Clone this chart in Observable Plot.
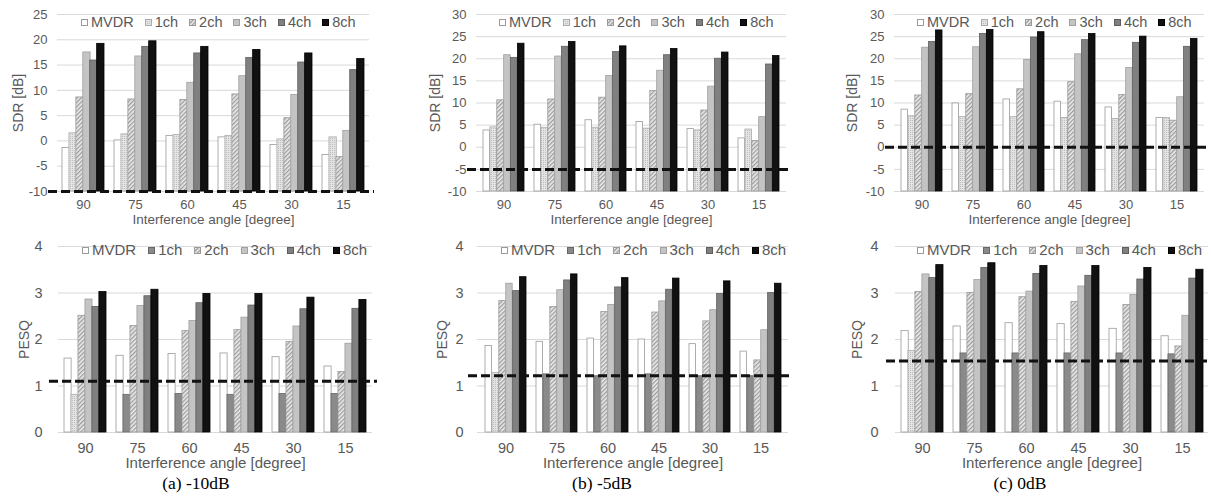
<!DOCTYPE html>
<html><head><meta charset="utf-8">
<script src="https://cdn.jsdelivr.net/npm/d3@7"></script>
<script src="https://cdn.jsdelivr.net/npm/@observablehq/plot@0.6"></script>
<style>
body{margin:0;background:#fff;}
#fig{position:relative;width:1211px;height:504px;overflow:hidden;font-family:"Liberation Sans",Arial,sans-serif;}
.panel{position:absolute;}
.legend{position:absolute;display:flex;align-items:center;color:#595959;white-space:nowrap;line-height:16px;}
.legend .it{display:flex;align-items:center;}
.legend svg{margin-right:3px;}
.cap{position:absolute;font-family:"Liberation Serif","Times New Roman",serif;font-size:17.5px;color:#000;transform:translateX(-50%);white-space:nowrap;line-height:20px;}
</style></head><body>
<svg width="0" height="0" style="position:absolute">
<defs>
<pattern id="dots" width="2" height="2" patternUnits="userSpaceOnUse"><rect width="2" height="2" fill="#e4e4e4"/><rect width="1" height="1" fill="#bdbdbd"/></pattern>
<pattern id="hatch" width="3" height="3" patternUnits="userSpaceOnUse" patternTransform="rotate(45)"><rect width="3" height="3" fill="#ebebeb"/><rect width="1.3" height="3" fill="#9c9c9c"/></pattern>
</defs></svg>
<div id="fig"></div>
<script>
const angles = ["90","75","60","45","30","15"];
const series = ["MVDR","1ch","2ch","3ch","4ch","8ch"];

// SDR [dB] per series, in angle order 90..15
const sdrM10 = {
  MVDR: [-1.4, 0.1, 1.0, 0.7, -0.8, -2.8],
  "1ch": [1.5, 1.3, 1.2, 1.0, 0.3, 0.7],
  "2ch": [8.6, 8.2, 8.1, 9.2, 4.5, -3.2],
  "3ch": [17.5, 16.7, 11.5, 12.8, 9.1, 2.0],
  "4ch": [15.9, 18.6, 17.3, 16.4, 15.5, 14.0],
  "8ch": [19.2, 19.7, 18.6, 18.0, 17.3, 16.2]
};
const sdrM5 = {
  MVDR: [3.8, 5.1, 6.1, 5.7, 4.1, 2.0],
  "1ch": [4.5, 4.4, 4.4, 4.2, 3.8, 4.0],
  "2ch": [10.6, 10.8, 11.2, 12.7, 8.3, 1.4],
  "3ch": [20.8, 20.5, 16.1, 17.3, 13.7, 6.8],
  "4ch": [20.2, 22.7, 21.5, 20.8, 20.0, 18.7],
  "8ch": [23.4, 23.8, 22.8, 22.2, 21.4, 20.6]
};
const sdr0 = {
  MVDR: [8.5, 9.9, 10.8, 10.3, 9.0, 6.6],
  "1ch": [7.0, 6.8, 6.8, 6.6, 6.4, 6.6],
  "2ch": [11.7, 12.0, 13.1, 14.7, 11.8, 6.0],
  "3ch": [22.5, 22.6, 19.7, 21.0, 17.9, 11.3],
  "4ch": [23.8, 25.6, 24.8, 24.2, 23.6, 22.7],
  "8ch": [26.4, 26.5, 26.0, 25.6, 25.0, 24.5]
};
// PESQ
const pesqM10 = {
  MVDR: [1.59, 1.65, 1.69, 1.70, 1.62, 1.42],
  "1ch": [0.81, 0.81, 0.83, 0.81, 0.83, 0.83],
  "2ch": [2.51, 2.29, 2.18, 2.20, 1.95, 1.30],
  "3ch": [2.86, 2.72, 2.40, 2.47, 2.28, 1.91],
  "4ch": [2.70, 2.93, 2.78, 2.73, 2.65, 2.66],
  "8ch": [3.02, 3.07, 2.98, 2.98, 2.90, 2.85]
};
const pesqM5 = {
  MVDR: [1.86, 1.95, 2.02, 2.00, 1.90, 1.74],
  "1ch": [1.28, 1.25, 1.21, 1.25, 1.21, 1.21],
  "2ch": [2.83, 2.70, 2.59, 2.58, 2.39, 1.55],
  "3ch": [3.20, 3.06, 2.74, 2.82, 2.63, 2.20],
  "4ch": [3.04, 3.27, 3.12, 3.07, 2.98, 3.00],
  "8ch": [3.34, 3.40, 3.32, 3.31, 3.25, 3.20]
};
const pesq0 = {
  MVDR: [2.18, 2.28, 2.35, 2.33, 2.23, 2.07],
  "1ch": [1.75, 1.70, 1.70, 1.70, 1.70, 1.68],
  "2ch": [3.02, 3.00, 2.91, 2.81, 2.74, 1.85],
  "3ch": [3.40, 3.28, 3.03, 3.14, 2.96, 2.51],
  "4ch": [3.32, 3.54, 3.41, 3.37, 3.29, 3.31],
  "8ch": [3.60, 3.64, 3.58, 3.58, 3.54, 3.50]
};
// dashed reference levels (unprocessed)
const sdrRefs = [-10, -5, 0];
const pesqRefs = [1.10, 1.22, 1.54];
const sdrTicksA = [-10, -5, 0, 5, 10, 15, 20, 25];
const sdrTicksBC = [-10, -5, 0, 5, 10, 15, 20, 25, 30];
const pesqTicks = [0, 1, 2, 3, 4];
const captions = ["(a) -10dB", "(b) -5dB", "(c) 0dB"];
// 1ch in the PESQ charts is drawn light only at this angle
const pesqLight1chAngle = "90";

const styleSdr = {
  MVDR: {fill: "#ffffff", stroke: "#9a9a9a"},
  "1ch": {fill: "url(#dots)", stroke: "#ababab"},
  "2ch": {fill: "url(#hatch)", stroke: "#9a9a9a"},
  "3ch": {fill: "#c4c4c4", stroke: "#a0a0a0"},
  "4ch": {fill: "#808080", stroke: "#5e5e5e"},
  "8ch": {fill: "#111111", stroke: "#000000"}
};
const stylePesq = Object.assign({}, styleSdr, {"1ch": {fill: "#8a8a8a", stroke: "#666666"}});

const fig = document.getElementById("fig");

function makePanel(o) {
  const rows = [];
  series.forEach(s => angles.forEach((a, i) => rows.push({series: s, angle: a, value: o.data[s][i]})));
  const W = o.width - o.ml - o.mr;
  const sw = (W / 6) * 0.8 / 6;
  const marks = [Plot.ruleY(o.ticks, {stroke: "#d9d9d9", strokeWidth: 1})];
  series.forEach((s, j) => {
    const st = o.styles[s];
    const inset = {insetLeft: j * sw, insetRight: (5 - j) * sw};
    if (o.pesq && s === "1ch") {
      marks.push(Plot.barY(rows.filter(d => d.series === s && d.angle === pesqLight1chAngle),
        {x: "angle", y1: o.base, y2: "value", fill: styleSdr["1ch"].fill, stroke: styleSdr["1ch"].stroke, strokeWidth: 0.8, ...inset}));
      marks.push(Plot.barY(rows.filter(d => d.series === s && d.angle !== pesqLight1chAngle),
        {x: "angle", y1: o.base, y2: "value", fill: st.fill, stroke: st.stroke, strokeWidth: 0.8, ...inset}));
    } else {
      marks.push(Plot.barY(rows.filter(d => d.series === s),
        {x: "angle", y1: o.base, y2: "value", fill: st.fill, stroke: st.stroke, strokeWidth: 0.8, ...inset}));
    }
  });
  marks.push(Plot.ruleY([o.ref], {stroke: "#111", strokeWidth: 3, strokeDasharray: "9,4", insetLeft: -9, insetRight: -5}));
  marks.push(Plot.axisX({tickSize: 0, tickPadding: o.xPad, fontSize: o.tickFs, label: null}));
  marks.push(Plot.axisY({ticks: o.ticks, tickFormat: d => String(d), tickSize: 0, tickPadding: o.yPad, fontSize: o.tickFs, label: null}));
  marks.push(Plot.axisX({ticks: [], tickSize: 0, label: "Interference angle [degree]", labelArrow: "none", labelAnchor: "center", labelOffset: o.xLabOff, fontSize: o.titleFs}));
  marks.push(Plot.axisY({ticks: [], tickSize: 0, label: o.ylabel, labelArrow: "none", labelAnchor: "center", labelOffset: o.yLabOff, fontSize: o.yTitleFs}));
  const chart = Plot.plot({
    width: o.width, height: o.height,
    marginLeft: o.ml, marginRight: o.mr, marginTop: o.mt, marginBottom: o.mb,
    x: {domain: angles, paddingInner: 0.2, paddingOuter: 0.1},
    y: {domain: o.yDomain},
    style: {fontFamily: "Liberation Sans, Arial, sans-serif", color: "#595959", background: "transparent", overflow: "visible"},
    marks
  });
  const div = document.createElement("div");
  div.className = "panel";
  div.style.left = o.left + "px";
  div.style.top = o.top + "px";
  div.appendChild(chart);
  fig.appendChild(div);

  // legend
  const lg = document.createElement("div");
  lg.className = "legend";
  lg.style.left = o.legLeft + "px";
  lg.style.top = (o.legY - 8) + "px";
  lg.style.fontSize = o.legFs + "px";
  series.forEach((s, j) => {
    const st = o.styles[s];
    const it = document.createElement("span");
    it.className = "it";
    if (j < 5) it.style.marginRight = o.legGap + "px";
    it.innerHTML = `<svg width="7" height="7"><rect x="0.5" y="0.5" width="6" height="6" fill="${st.fill}" stroke="${st.stroke}" stroke-width="1"/></svg><span>${s}</span>`;
    lg.appendChild(it);
  });
  fig.appendChild(lg);
}

const cols = [
  {top: {left: 0, width: 400, plotL: 57, plotR: 369, legLeft: 81}, bot: {left: 0, width: 400, plotL: 58, plotR: 372, legLeft: 82}, capX: 196},
  {top: {left: 405, width: 400, plotL: 476, plotR: 786, legLeft: 499}, bot: {left: 405, width: 400, plotL: 477, plotR: 788, legLeft: 501}, capX: 602},
  {top: {left: 810, width: 401, plotL: 894, plotR: 1204, legLeft: 917}, bot: {left: 810, width: 401, plotL: 895, plotR: 1208, legLeft: 917}, capX: 1020}
];
const sdrData = [sdrM10, sdrM5, sdr0];
const pesqData = [pesqM10, pesqM5, pesq0];
const sdrTop = [25, 30, 30];
const yTitleTop = [13, 430, 847];
const yTitleBot = [19, 437, 852];
const yPadBot = [16, 14, 17];

cols.forEach((c, k) => {
  const t = c.top;
  makePanel({
    data: sdrData[k], styles: styleSdr, pesq: false,
    yDomain: [-10, sdrTop[k]], ticks: k === 0 ? sdrTicksA : sdrTicksBC, base: -10, ref: sdrRefs[k],
    left: t.left, top: 0, width: t.width, height: 232,
    ml: t.plotL - t.left, mr: t.left + t.width - t.plotR, mt: 14, mb: 232 - 191,
    xPad: 8, yPad: 10, tickFs: 13, titleFs: 13.5, yTitleFs: 14,
    xLabOff: 32, yLabOff: t.plotL - yTitleTop[k], ylabel: "SDR [dB]",
    legLeft: t.legLeft, legY: 22, legFs: 14.5, legGap: 11
  });
  const b = c.bot;
  makePanel({
    data: pesqData[k], styles: stylePesq, pesq: true,
    yDomain: [0, 4], ticks: pesqTicks, base: 0, ref: pesqRefs[k],
    left: b.left, top: 236, width: b.width, height: 268,
    ml: b.plotL - b.left, mr: b.left + b.width - b.plotR, mt: 10, mb: 268 - 196,
    xPad: 10, yPad: yPadBot[k], tickFs: 14.5, titleFs: 15, yTitleFs: 14,
    xLabOff: 35, yLabOff: b.plotL - yTitleBot[k], ylabel: "PESQ",
    legLeft: b.legLeft, legY: 250, legFs: 15, legGap: 12
  });
  const cap = document.createElement("div");
  cap.className = "cap";
  cap.style.left = c.capX + "px";
  cap.style.top = "473px";
  cap.textContent = captions[k];
  fig.appendChild(cap);
});
</script>
</body></html>
